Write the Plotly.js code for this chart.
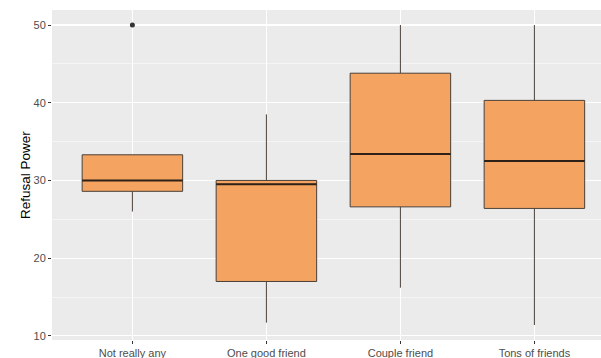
<!DOCTYPE html>
<html>
<head>
<meta charset="utf-8">
<script src="https://cdn.plot.ly/plotly-3.0.1.min.js"></script>
<style>html,body{margin:0;padding:0;background:#fff;}#chart{width:601px;height:358px;}</style>
</head>
<body>
<div id="chart"></div>
<script>
const categories = ["Not really any", "One good friend", "Couple friend", "Tons of friends"];
const q1Values = [28.6, 17.0, 26.6, 26.4];
const medianValues = [30.0, 29.5, 33.4, 32.5];
const q3Values = [33.3, 30.0, 43.8, 40.3];
const lowerWhisker = [26.0, 11.7, 16.2, 11.4];
const upperWhisker = [33.3, 38.5, 50.0, 50.0];
const outlierCategory = ["Not really any"];
const outlierValues = [50];
const yTicks = [10, 20, 30, 40, 50];

const positions = categories.map((c, i) => i);
const halfWidth = 0.375;

const medX = [], medY = [];
positions.forEach((p, i) => {
  medX.push(p - halfWidth, p + halfWidth, null);
  medY.push(medianValues[i], medianValues[i], null);
});

const traces = [
  {
    type: 'box',
    x: positions,
    q1: q1Values,
    median: medianValues,
    q3: q3Values,
    lowerfence: lowerWhisker,
    upperfence: upperWhisker,
    width: 0.75,
    whiskerwidth: 0,
    fillcolor: '#F4A460',
    line: {color: '#4a4038', width: 1},
    hoverinfo: 'skip',
    showlegend: false
  },
  {
    type: 'scatter',
    mode: 'lines',
    x: medX,
    y: medY,
    line: {color: '#2e2218', width: 2},
    hoverinfo: 'skip',
    showlegend: false
  },
  {
    type: 'scatter',
    mode: 'markers',
    x: outlierCategory.map(c => categories.indexOf(c)),
    y: outlierValues,
    marker: {color: '#333333', size: 5},
    hoverinfo: 'skip',
    showlegend: false
  }
];

const layout = {
  width: 601,
  height: 358,
  margin: {l: 52, r: 0, t: 10, b: 18},
  paper_bgcolor: '#ffffff',
  plot_bgcolor: '#EBEBEB',
  font: {family: 'Liberation Sans, Arial, sans-serif', size: 11, color: '#4d4d4d'},
  xaxis: {
    range: [-0.6, 3.497],
    tickvals: positions,
    ticktext: categories,
    showgrid: true,
    gridcolor: '#ffffff',
    gridwidth: 1.1,
    zeroline: false,
    showline: false,
    ticks: 'outside',
    ticklen: 3,
    tickcolor: '#333333',
    tickfont: {size: 11, color: '#4d4d4d'},
    fixedrange: true
  },
  yaxis: {
    range: [9.47, 51.93],
    tickvals: yTicks,
    showgrid: true,
    gridcolor: '#ffffff',
    gridwidth: 1.1,
    minor: {tick0: 15, dtick: 10, showgrid: true, gridcolor: '#ffffff', gridwidth: 0.5, ticks: ''},
    zeroline: false,
    showline: false,
    ticks: 'outside',
    ticklen: 3,
    tickcolor: '#333333',
    tickfont: {size: 11, color: '#4d4d4d'},
    fixedrange: true
  },
  annotations: [{
    text: 'Refusal Power',
    xref: 'paper', yref: 'paper',
    x: -0.0, xshift: -27, y: 0.5,
    xanchor: 'center', yanchor: 'middle',
    textangle: -90,
    showarrow: false,
    font: {size: 13.5, color: '#000000'}
  }]
};

Plotly.newPlot('chart', traces, layout, {displayModeBar: false, staticPlot: true});
</script>
</body>
</html>
